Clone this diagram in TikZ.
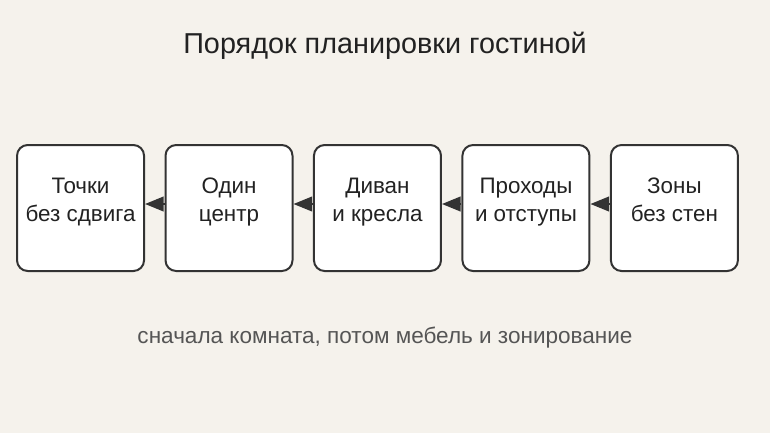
\documentclass[tikz,border=0pt]{standalone}
\usepackage{fontspec}
\setmainfont{Liberation Sans}
\usepackage{xcolor}
\usetikzlibrary{arrows.meta, positioning}
\definecolor{paper}{HTML}{F5F2EC}
\definecolor{ink}{HTML}{222222}
\definecolor{frame}{HTML}{333333}
\definecolor{note}{HTML}{555555}
\tikzset{
  stepbox/.style = {draw=frame, fill=white, line width=1.5pt, rounded corners=8pt,
    minimum width=95.25pt, minimum height=94.5pt, align=center,
    text=ink, font=\fontsize{16.8}{21}\selectfont,
    execute at begin node=\strut,
    execute at end node={\rule[-12.3pt]{0pt}{12.3pt}}},
  backarrow/.style = {draw=frame, line width=1.5pt, transform canvas={yshift=3pt},
    -{Triangle[length=14pt, width=11pt]}}
}

\begin{document}
\begin{tikzpicture}

	% canvas, 770 x 433 px at 0.75pt per px
	\fill[paper] (0,0) rectangle (577.5pt,-324.75pt);
	\useasboundingbox (0,0) rectangle (577.5pt,-324.75pt);

	\node[text=ink, font=\fontsize{21.6}{25}\selectfont] (title) at (288.75pt,-34.5pt) {Порядок планировки гостиной};

	\node[stepbox] (points) at (60.4pt,-156pt) {Точки\\без сдвига};
	\node[stepbox, right=14.6pt of points] (center) {Один\\центр};
	\node[stepbox, right=14.6pt of center] (sofa) {Диван\\и кресла};
	\node[stepbox, right=14.6pt of sofa] (passages) {Проходы\\и отступы};
	\node[stepbox, right=14.6pt of passages] (zones) {Зоны\\без стен};

	\draw[backarrow] (center.west) -- (points.east);
	\draw[backarrow] (sofa.west) -- (center.east);
	\draw[backarrow] (passages.west) -- (sofa.east);
	\draw[backarrow] (zones.west) -- (passages.east);

	\node[text=note, font=\fontsize{16.9}{20}\selectfont] (caption) at (288.75pt,-253pt) {сначала комната, потом мебель и зонирование};

\end{tikzpicture}
\end{document}
